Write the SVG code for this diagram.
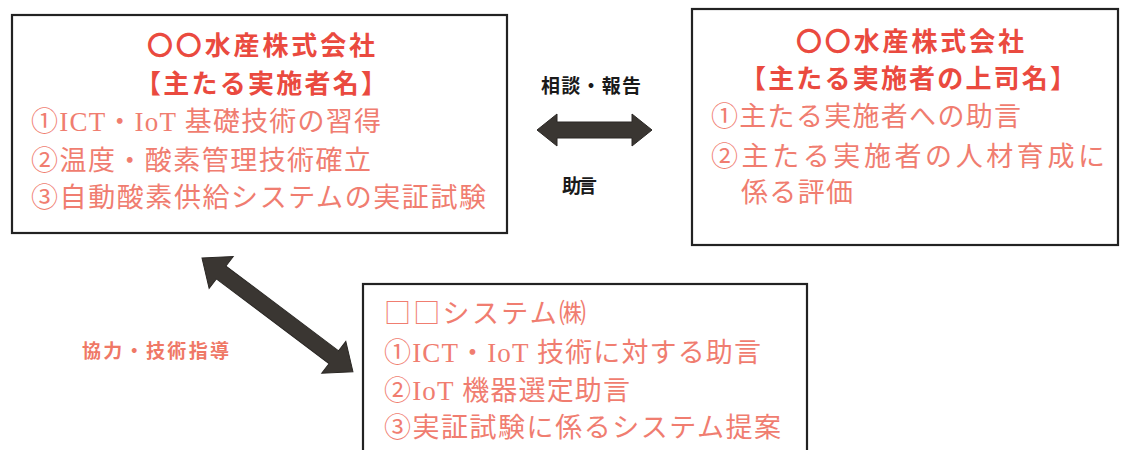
<svg xmlns="http://www.w3.org/2000/svg" width="1121" height="450" viewBox="0 0 1121 450">
<style>
.box{fill:#ffffff;stroke:#222;stroke-width:2.2}
.hd{font-family:"Noto Sans CJK JP","Noto Sans",sans-serif;font-weight:700;font-size:26px;fill:#ea4a3f}
.it{font-family:"Liberation Serif","Noto Sans CJK JP",serif;font-weight:400;font-size:27px;fill:#f07d70}
.cj{font-family:"Noto Sans CJK JP",sans-serif}
.lb{font-family:"Noto Sans CJK JP","Noto Sans",sans-serif;font-weight:700;font-size:19px;fill:#1a1a1a}
.lbr{font-family:"Noto Sans CJK JP","Noto Sans",sans-serif;font-weight:700;font-size:19px;fill:#ef7866}
.arr{fill:#3a3632;stroke:#2a2724;stroke-width:1}
</style>
<rect width="1121" height="450" fill="#ffffff"/>
<g id="node-left">
<rect class="box" x="12" y="15" width="495" height="218"/>
<text class="hd" x="147" y="55" textLength="228" lengthAdjust="spacing">〇〇水産株式会社</text>
<text class="hd" x="135" y="93" textLength="252" lengthAdjust="spacing">【主たる実施者名】</text>
<text class="it" x="31" y="131" textLength="350" lengthAdjust="spacing">①ICT・IoT 基礎技術の習得</text>
<text class="it" x="31" y="170" textLength="340" lengthAdjust="spacing">②温度・酸素管理技術確立</text>
<text class="it" x="31" y="207" textLength="455" lengthAdjust="spacing">③自動酸素供給システムの実証試験</text>
</g>
<g id="node-right">
<rect class="box" x="692" y="9" width="426" height="236"/>
<text class="hd" x="796" y="51" textLength="228" lengthAdjust="spacing">〇〇水産株式会社</text>
<text class="hd" x="740" y="88" textLength="336" lengthAdjust="spacing">【主たる実施者の上司名】</text>
<text class="it" x="711" y="126" textLength="310" lengthAdjust="spacing">①主たる実施者への助言</text>
<text class="it" x="711" y="166" textLength="394" lengthAdjust="spacing">②主たる実施者の人材育成に</text>
<text class="it" x="741" y="202" textLength="112" lengthAdjust="spacing">係る評価</text>
</g>
<g id="node-bottom">
<rect class="box" x="363" y="284" width="444" height="180"/>
<text class="it cj" x="384" y="323" textLength="202" lengthAdjust="spacing">□□システム㈱</text>
<text class="it" x="384" y="362" textLength="377" lengthAdjust="spacing">①ICT・IoT 技術に対する助言</text>
<text class="it" x="384" y="400" textLength="246" lengthAdjust="spacing">②IoT 機器選定助言</text>
<text class="it" x="384" y="437" textLength="397" lengthAdjust="spacing">③実証試験に係るシステム提案</text>
</g>
<g id="connectors">
<polygon class="arr" points="537,130 557,114 557,122 632,122 632,114 652,130 632,146 632,138 557,138 557,146"/>
<polygon class="arr" transform="translate(202,258) rotate(37)" points="0,0 24,-20 24,-8 165,-8 165,-20 189,0 165,20 165,8 24,8 24,20"/>
<text class="lb" x="541" y="93" textLength="100" lengthAdjust="spacing">相談・報告</text>
<text class="lb" x="562" y="193" textLength="35" lengthAdjust="spacing">助言</text>
<text class="lbr" x="82" y="358" textLength="147" lengthAdjust="spacing">協力・技術指導</text>
</g>
</svg>
